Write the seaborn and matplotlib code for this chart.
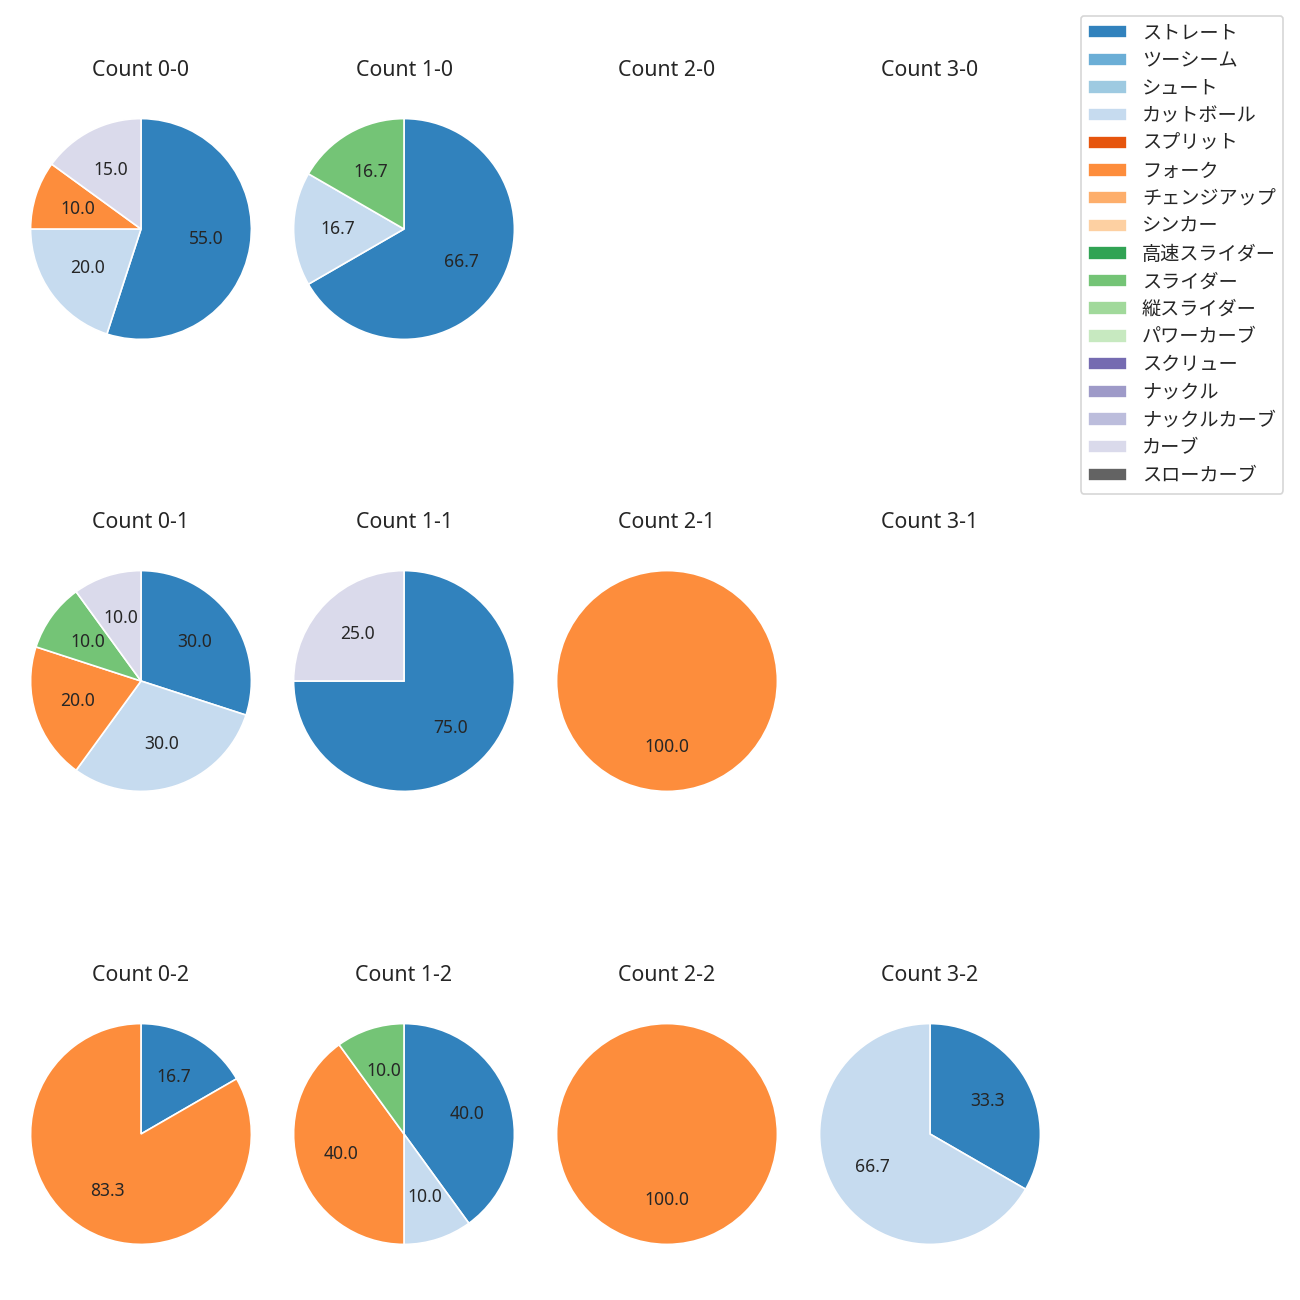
import matplotlib
matplotlib.use("Agg")
import matplotlib.pyplot as plt
import seaborn as sns
from matplotlib.patches import Patch

sns.set_style("white")
plt.rcParams['font.family'] = ['Noto Sans', 'Noto Sans CJK JP', 'DejaVu Sans']

# pitch types and their colours (tab20c order)
pitch_types = ["ストレート", "ツーシーム", "シュート", "カットボール", "スプリット", "フォーク",
               "チェンジアップ", "シンカー", "高速スライダー", "スライダー", "縦スライダー",
               "パワーカーブ", "スクリュー", "ナックル", "ナックルカーブ", "カーブ", "スローカーブ"]
palette = sns.color_palette("tab20c", 20)[:16] + [(0.388, 0.388, 0.388)]
colors = dict(zip(pitch_types, palette))

# counts -> (pitch types, number of pitches)
count_labels = ["0-0", "1-0", "2-0", "3-0",
                "0-1", "1-1", "2-1", "3-1",
                "0-2", "1-2", "2-2", "3-2"]
c00_types = ["ストレート", "カットボール", "フォーク", "カーブ"]
c00_vals = [11, 4, 2, 3]
c10_types = ["ストレート", "カットボール", "スライダー"]
c10_vals = [4, 1, 1]
c01_types = ["ストレート", "カットボール", "フォーク", "スライダー", "カーブ"]
c01_vals = [3, 3, 2, 1, 1]
c11_types = ["ストレート", "カーブ"]
c11_vals = [3, 1]
c21_types = ["フォーク"]
c21_vals = [1]
c02_types = ["ストレート", "フォーク"]
c02_vals = [1, 5]
c12_types = ["ストレート", "カットボール", "フォーク", "スライダー"]
c12_vals = [4, 1, 4, 1]
c22_types = ["フォーク"]
c22_vals = [2]
c32_types = ["ストレート", "カットボール"]
c32_vals = [1, 2]

data = {
    "0-0": (c00_types, c00_vals),
    "1-0": (c10_types, c10_vals),
    "0-1": (c01_types, c01_vals),
    "1-1": (c11_types, c11_vals),
    "2-1": (c21_types, c21_vals),
    "0-2": (c02_types, c02_vals),
    "1-2": (c12_types, c12_vals),
    "2-2": (c22_types, c22_vals),
    "3-2": (c32_types, c32_vals),
}

W = H = 1300
DPI = 120
fig = plt.figure(figsize=(W / DPI, H / DPI), dpi=DPI)

col_cx = [141, 404, 667, 930]
row_cy = [229, 681, 1134]
side = 276

for i, lab in enumerate(count_labels):
    r, c = divmod(i, 4)
    cx, cy = col_cx[c], row_cy[r]
    ax = fig.add_axes([(cx - side / 2) / W, 1 - (cy + side / 2) / H, side / W, side / H])
    ax.set_title(f"Count {lab}", fontsize=12.8, pad=9)
    if lab in data:
        types, vals = data[lab]
        ax.pie(vals, colors=[colors[t] for t in types], autopct="%.1f",
               startangle=90, counterclock=False, textprops={'fontsize': 10.5})
    else:
        ax.set_xticks([]); ax.set_yticks([])
        for s in ax.spines.values():
            s.set_visible(False)

handles = [Patch(facecolor=colors[t], label=t) for t in pitch_types]
fig.legend(handles=handles, loc="upper right", bbox_to_anchor=(1293 / W, 1 - 6 / H),
           fontsize=11.5, labelspacing=0.4)

plt.savefig("out.png", dpi=DPI)
